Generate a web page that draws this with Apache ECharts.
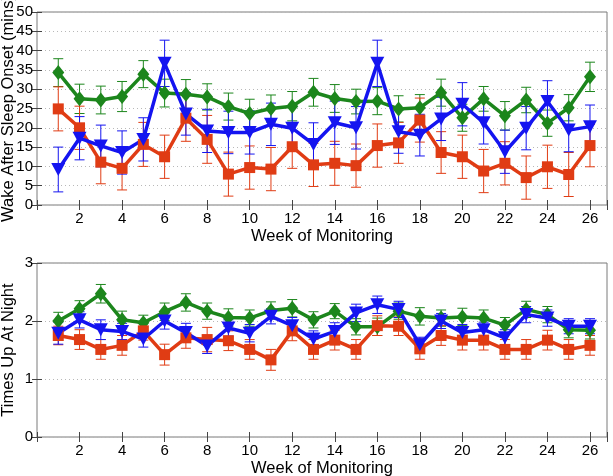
<!DOCTYPE html>
<html>
<head>
<meta charset="utf-8">
<script src="https://cdn.jsdelivr.net/npm/echarts@6/dist/echarts.min.js"></script>
<style>
  html, body { margin: 0; padding: 0; background: #fff; }
  #chart { width: 613px; height: 476px; }
</style>
</head>
<body>
<div id="chart"></div>
<script>
// weeks of monitoring
const weeks = [1,2,3,4,5,6,7,8,9,10,11,12,13,14,15,16,17,18,19,20,21,22,23,24,25,26];

// wake after sleep onset (mins)
const wasoGreen = [34.3,27.5,27.2,28.1,33.9,29.0,28.7,28.0,25.5,23.7,25.0,25.6,29.2,27.6,26.8,26.9,24.9,25.2,29.1,22.6,27.5,23.1,27.2,21.2,25.2,33.2];
const wasoGreenErr = [3.6,3.8,3.6,3.9,3.5,3.6,3.8,3.4,3.5,3.7,3.5,3.8,3.6,3.6,3.2,3.5,3.4,3.4,3.5,3.5,3.2,3.7,3.3,3.4,3.4,3.8];
const wasoBlue = [9.2,17.3,15.3,13.6,17.0,36.7,23.6,19.2,18.8,18.8,20.9,19.9,15.7,21.3,20.0,36.7,19.0,18.1,22.3,26.1,21.3,13.8,19.9,26.8,19.4,20.3];
const wasoBlueErr = [5.8,5.6,5.4,5.6,5.6,6.0,5.5,5.6,5.5,5.6,5.5,5.5,5.6,5.6,5.5,6.0,5.6,5.4,5.6,5.6,5.5,5.6,5.6,5.4,5.6,5.6];
const wasoRed = [24.9,20.0,11.1,9.5,15.7,12.5,22.5,17.0,8.0,9.7,9.3,15.1,10.4,10.8,10.2,15.4,16.1,22.0,13.6,12.5,8.8,10.8,7.1,9.9,7.9,15.4];
const wasoRedErr = [5.7,5.6,5.6,5.6,5.7,5.6,6.0,6.2,5.7,5.6,5.6,5.6,5.6,5.7,5.6,5.6,5.3,5.7,5.4,5.6,5.6,5.6,5.6,5.6,5.7,5.5];

// times up at night
const upGreen = [2.00,2.21,2.47,2.02,1.97,2.16,2.32,2.17,2.06,2.05,2.18,2.22,2.02,2.17,1.90,1.90,2.17,2.08,2.05,2.07,2.05,1.93,2.20,2.11,1.85,1.84];
const upGreenErr = [0.15,0.14,0.16,0.15,0.13,0.15,0.15,0.14,0.15,0.14,0.15,0.15,0.14,0.13,0.14,0.15,0.14,0.15,0.14,0.15,0.14,0.13,0.14,0.14,0.14,0.15];
const upBlue = [1.79,2.02,1.85,1.82,1.69,2.00,1.80,1.57,1.88,1.79,2.08,1.92,1.69,1.82,2.14,2.28,2.20,1.59,2.00,1.80,1.85,1.71,2.11,2.05,1.91,1.91];
const upBlueErr = [0.19,0.14,0.17,0.14,0.14,0.14,0.16,0.13,0.14,0.15,0.13,0.14,0.14,0.15,0.15,0.15,0.14,0.13,0.13,0.14,0.13,0.14,0.14,0.14,0.13,0.13];
const upRed = [1.75,1.68,1.51,1.58,1.83,1.42,1.71,1.68,1.66,1.51,1.33,1.83,1.51,1.67,1.51,1.92,1.91,1.52,1.75,1.67,1.67,1.51,1.51,1.67,1.51,1.58];
const upRedErr = [0.16,0.17,0.17,0.17,0.16,0.18,0.18,0.21,0.17,0.17,0.18,0.17,0.17,0.17,0.17,0.17,0.16,0.18,0.17,0.17,0.17,0.17,0.17,0.17,0.17,0.17];

const GREEN = '#1c861c';
const BLUE = '#1414f0';
const RED = '#e03c14';
const FONT = 'Liberation Sans';

const chart = echarts.init(document.getElementById('chart'));

// 误差线（竖线 + 上下短横）
function errorSeries(axis, vals, errs, color) {
  return {
    type: 'custom',
    xAxisIndex: axis,
    yAxisIndex: axis,
    silent: true,
    z: 2,
    data: weeks.map((w, i) => [w, vals[i] - errs[i], vals[i] + errs[i]]),
    renderItem(params, api) {
      const lo = api.coord([api.value(0), api.value(1)]);
      const hi = api.coord([api.value(0), api.value(2)]);
      const hw = 5;
      const style = { stroke: color, lineWidth: 1 };
      return {
        type: 'group',
        children: [
          { type: 'line', shape: { x1: lo[0], y1: lo[1], x2: hi[0], y2: hi[1] }, style },
          { type: 'line', shape: { x1: lo[0] - hw, y1: lo[1], x2: lo[0] + hw, y2: lo[1] }, style },
          { type: 'line', shape: { x1: hi[0] - hw, y1: hi[1], x2: hi[0] + hw, y2: hi[1] }, style }
        ]
      };
    }
  };
}

function lineSeries(axis, vals, color, symbol, size, rotate) {
  return {
    type: 'line',
    xAxisIndex: axis,
    yAxisIndex: axis,
    data: weeks.map((w, i) => [w, vals[i]]),
    symbol,
    symbolSize: size,
    symbolRotate: rotate || 0,
    showAllSymbol: true,
    silent: true,
    z: 3,
    lineStyle: { color, width: 3.5 },
    itemStyle: { color, borderWidth: 0 },
    emphasis: { disabled: true }
  };
}

const tickStyle = { show: true, inside: true, length: 5, lineStyle: { color: '#444' } };

function xAxes(grid) {
  const base = {
    type: 'value',
    gridIndex: grid,
    min: 0,
    max: 26.8,
    interval: 2,
    splitLine: { show: false },
    axisLine: { show: false },
    axisTick: tickStyle
  };
  return [
    Object.assign({}, base, {
      position: 'bottom',
      name: 'Week of Monitoring',
      nameLocation: 'middle',
      nameGap: 23,
      nameMoveOverlap: false,
      nameTextStyle: { fontFamily: FONT, fontSize: 16.5, color: '#000' },
      axisLabel: {
        fontFamily: FONT, fontSize: 15, color: '#000', margin: 6,
        formatter: v => (v > 0 && v <= 26 ? String(v) : '')
      }
    }),
    Object.assign({}, base, { position: 'top', axisLabel: { show: false } })
  ];
}

function yAxes(grid, max, interval, name) {
  const base = {
    type: 'value',
    gridIndex: grid,
    min: 0,
    max,
    interval,
    axisLine: { show: false },
    axisTick: tickStyle
  };
  return [
    Object.assign({}, base, {
      position: 'left',
      name,
      nameLocation: 'middle',
      nameGap: 20,
      nameMoveOverlap: false,
      nameTextStyle: { fontFamily: FONT, fontSize: 16.5, color: '#000' },
      splitLine: { show: true, lineStyle: { color: '#b8b8b8', type: [1, 3], width: 1 } },
      axisLabel: { fontFamily: FONT, fontSize: 15, color: '#000', margin: 4 }
    }),
    Object.assign({}, base, { position: 'right', splitLine: { show: false }, axisLabel: { show: false } })
  ];
}

// axis 0/1 -> top grid, axis 2/3 -> bottom grid
const option = {
  animation: false,
  backgroundColor: '#fff',
  grid: [
    { left: 37, top: 12, right: 6, height: 193, outerBoundsMode: 'none', containLabel: false, show: true, borderColor: '#7a7a7a', borderWidth: 1, backgroundColor: '#fff' },
    { left: 37, top: 263, right: 6, height: 174, outerBoundsMode: 'none', containLabel: false, show: true, borderColor: '#7a7a7a', borderWidth: 1, backgroundColor: '#fff' }
  ],
  xAxis: [...xAxes(0), ...xAxes(1)],
  yAxis: [...yAxes(0, 50, 5, 'Wake After Sleep Onset (mins)'), ...yAxes(1, 3, 1, 'Times Up At Night')],
  series: [
    errorSeries(0, wasoGreen, wasoGreenErr, GREEN),
    lineSeries(0, wasoGreen, GREEN, 'diamond', [12, 15]),
    errorSeries(0, wasoRed, wasoRedErr, RED),
    lineSeries(0, wasoRed, RED, 'rect', 11),
    errorSeries(0, wasoBlue, wasoBlueErr, BLUE),
    lineSeries(0, wasoBlue, BLUE, 'triangle', [14, 13], 180),

    errorSeries(2, upGreen, upGreenErr, GREEN),
    lineSeries(2, upGreen, GREEN, 'diamond', [12, 15]),
    errorSeries(2, upRed, upRedErr, RED),
    lineSeries(2, upRed, RED, 'rect', 11),
    errorSeries(2, upBlue, upBlueErr, BLUE),
    lineSeries(2, upBlue, BLUE, 'triangle', [14, 13], 180)
  ]
};

chart.setOption(option);
window.addEventListener('resize', () => chart.resize());
</script>
</body>
</html>
